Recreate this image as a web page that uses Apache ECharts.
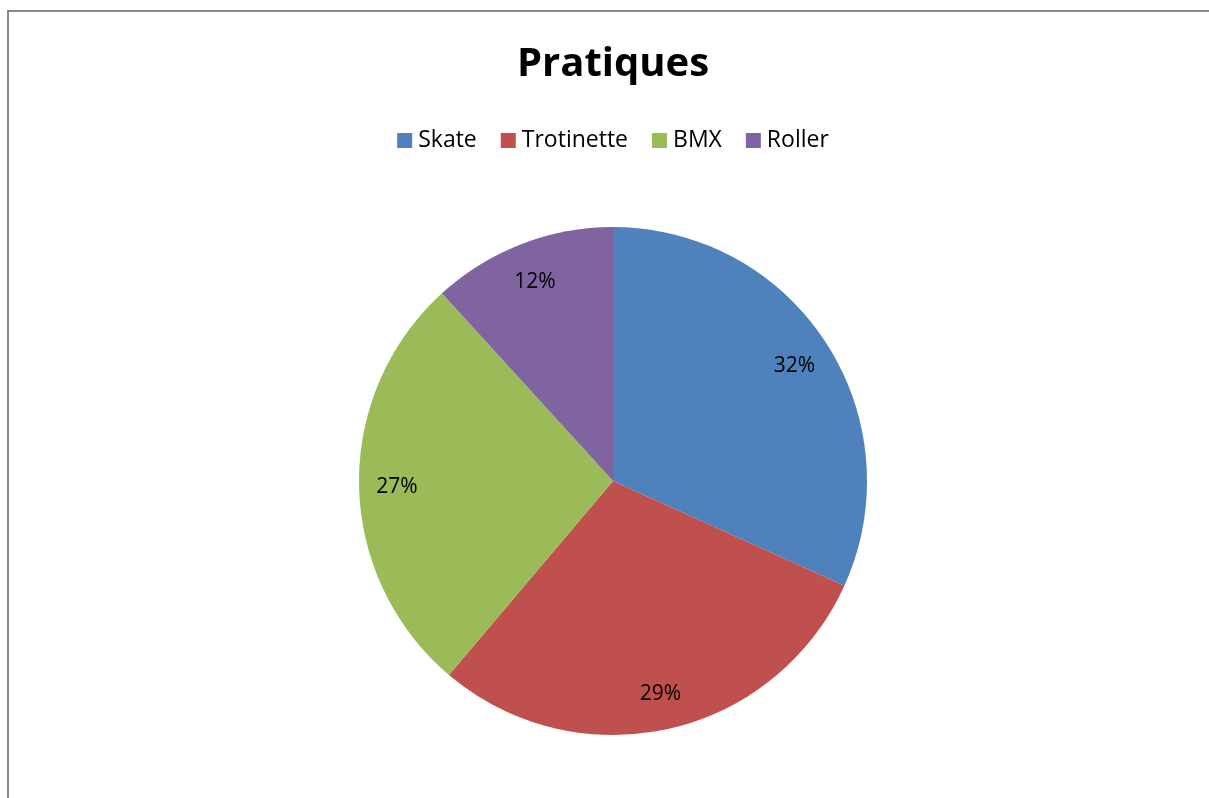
<!DOCTYPE html>
<html>
<head>
<meta charset="utf-8">
<script src="https://cdn.jsdelivr.net/npm/echarts@6/dist/echarts.min.js"></script>
<style>
  html, body { margin: 0; padding: 0; background: #fff; overflow: hidden; }
  #frame { position: absolute; left: 7px; top: 10px; width: 1202px; height: 788px;
           border-top: 2px solid #8a8a8a; border-left: 2px solid #8a8a8a; }
  #chart { position: absolute; left: 8px; top: 0; width: 1210px; height: 798px; }
</style>
</head>
<body>
<div id="frame"></div>
<div id="chart"></div>
<script>
var categories = ['Skate', 'Trotinette', 'BMX', 'Roller'];
var values = [27, 25, 23, 10];
var colors = ['#4F81BD', '#C0504D', '#9BBB59', '#8064A2'];

var myChart = echarts.init(document.getElementById('chart'));

var pieData = categories.map(function (name, i) {
  return { name: name, value: values[i] };
});

var option = {
  color: colors,
  animation: false,
  title: {
    text: 'Pratiques',
    left: 'center',
    top: 40,
    textStyle: { fontFamily: 'Open Sans', fontSize: 40, fontWeight: 'bold', color: '#000' }
  },
  legend: {
    data: categories,
    top: 124,
    left: 'center',
    itemWidth: 15,
    itemHeight: 15,
    itemGap: 24,
    icon: 'rect',
    textStyle: { fontFamily: 'Open Sans', fontSize: 23, color: '#000', padding: [0, 0, 0, 1] }
  },
  series: [
    {
      name: 'Pratiques',
      type: 'pie',
      center: [605, 481],
      radius: [0, 254],
      startAngle: 90,
      clockwise: true,
      label: { show: false },
      labelLine: { show: false },
      itemStyle: { borderWidth: 0 },
      data: pieData
    },
    {
      // invisible ring used only to place the percentage labels
      name: 'labels',
      type: 'pie',
      center: [605, 483],
      radius: [172, 254],
      startAngle: 90,
      clockwise: true,
      silent: true,
      legendHoverLink: false,
      itemStyle: { color: 'transparent', borderWidth: 0 },
      label: {
        show: true,
        position: 'inside',
        formatter: function (p) { return Math.round(p.percent) + '%'; },
        fontFamily: 'Open Sans',
        fontSize: 21,
        color: '#000'
      },
      labelLine: { show: false },
      data: pieData
    }
  ]
};

myChart.setOption(option);
</script>
</body>
</html>
